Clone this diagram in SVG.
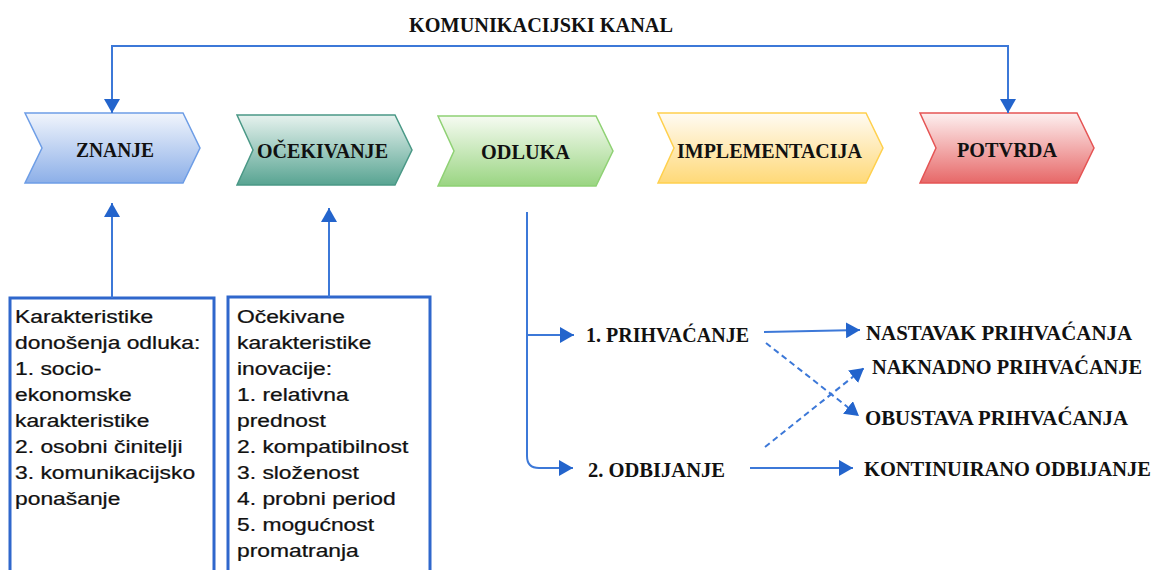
<svg xmlns="http://www.w3.org/2000/svg" width="1158" height="570" viewBox="0 0 1158 570">
<defs>
<linearGradient id="gBlue" x1="0" y1="0" x2="0" y2="1"><stop offset="0" stop-color="#f1f5fc"/><stop offset="1" stop-color="#8cafe8"/></linearGradient>
<linearGradient id="gTeal" x1="0" y1="0" x2="0" y2="1"><stop offset="0" stop-color="#e6f2ee"/><stop offset="1" stop-color="#58a492"/></linearGradient>
<linearGradient id="gGreen" x1="0" y1="0" x2="0" y2="1"><stop offset="0" stop-color="#f6fbf2"/><stop offset="1" stop-color="#9ad582"/></linearGradient>
<linearGradient id="gYellow" x1="0" y1="0" x2="0" y2="1"><stop offset="0" stop-color="#fffbf3"/><stop offset="1" stop-color="#ffd978"/></linearGradient>
<linearGradient id="gRed" x1="0" y1="0" x2="0" y2="1"><stop offset="0" stop-color="#fdf0f0"/><stop offset="1" stop-color="#e76868"/></linearGradient>
<marker id="arr" viewBox="0 0 14 16" refX="14" refY="8" markerWidth="14" markerHeight="16" markerUnits="userSpaceOnUse" orient="auto">
<path d="M0,0 L14,8 L0,16 Z" fill="#2364cc"/>
</marker>
<style>
.chev{stroke-width:1.5}
.lbl{font-family:"Liberation Serif","Times New Roman",serif;font-weight:700;font-size:22px;fill:#111111}
.dl{font-family:"Liberation Serif","Times New Roman",serif;font-weight:700;font-size:21px;fill:#111111}
.box{fill:#ffffff;stroke:#2f67cc;stroke-width:3}
.bt{font-family:"Liberation Sans",Arial,sans-serif;font-size:18.5px;fill:#111111;stroke:#111111;stroke-width:0.25}
.ln{fill:none;stroke:#3c78d8;stroke-width:2}
.dash{fill:none;stroke:#3c78d8;stroke-width:2;stroke-dasharray:6,4}
</style>
</defs>
<rect width="1158" height="570" fill="#ffffff"/>

<text class="lbl" x="409" y="32" textLength="264" lengthAdjust="spacingAndGlyphs">KOMUNIKACIJSKI KANAL</text>

<g id="node-znanje">
<path class="chev" d="M25,113 H183 L200,148 L183,183 H25 L42,148 Z" fill="url(#gBlue)" stroke="#6d9de6"/>
<text class="lbl" x="76" y="157" textLength="78" lengthAdjust="spacingAndGlyphs">ZNANJE</text>
</g>
<g id="node-ocekivanje">
<path class="chev" d="M237,115 H395 L412,150 L395,185 H237 L253,150 Z" fill="url(#gTeal)" stroke="#4a9886"/>
<text class="lbl" x="257" y="158" textLength="131" lengthAdjust="spacingAndGlyphs">OČEKIVANJE</text>
</g>
<g id="node-odluka">
<path class="chev" d="M438,116 H596 L613,151 L596,186 H438 L454,151 Z" fill="url(#gGreen)" stroke="#8fd174"/>
<text class="lbl" x="481" y="159" textLength="89" lengthAdjust="spacingAndGlyphs">ODLUKA</text>
</g>
<g id="node-implementacija">
<path class="chev" d="M658,113 H866 L883,148 L866,183 H658 L674,148 Z" fill="url(#gYellow)" stroke="#ffd04d"/>
<text class="lbl" x="677" y="158" textLength="185" lengthAdjust="spacingAndGlyphs">IMPLEMENTACIJA</text>
</g>
<g id="node-potvrda">
<path class="chev" d="M920,113 H1077 L1094,148 L1077,183 H920 L936,148 Z" fill="url(#gRed)" stroke="#e55454"/>
<text class="lbl" x="957" y="157" textLength="100" lengthAdjust="spacingAndGlyphs">POTVRDA</text>
</g>

<g id="node-box1">
<rect class="box" x="10" y="298" width="204" height="290"/>
<g transform="matrix(1.235 0 0 1 15 0)">
<text class="bt" x="0" y="323">Karakteristike</text>
<text class="bt" x="0" y="349">donošenja odluka:</text>
<text class="bt" x="0" y="375">1. socio-</text>
<text class="bt" x="0" y="401">ekonomske</text>
<text class="bt" x="0" y="427">karakteristike</text>
<text class="bt" x="0" y="453">2. osobni činitelji</text>
<text class="bt" x="0" y="479">3. komunikacijsko</text>
<text class="bt" x="0" y="505">ponašanje</text>
</g>
</g>
<g id="node-box2">
<rect class="box" x="228" y="297" width="202" height="290"/>
<g transform="matrix(1.235 0 0 1 237 0)">
<text class="bt" x="0" y="323">Očekivane</text>
<text class="bt" x="0" y="349">karakteristike</text>
<text class="bt" x="0" y="375">inovacije:</text>
<text class="bt" x="0" y="401">1. relativna</text>
<text class="bt" x="0" y="427">prednost</text>
<text class="bt" x="0" y="453">2. kompatibilnost</text>
<text class="bt" x="0" y="479">3. složenost</text>
<text class="bt" x="0" y="505">4. probni period</text>
<text class="bt" x="0" y="531">5. mogućnost</text>
<text class="bt" x="0" y="557">promatranja</text>
</g>
</g>

<g id="node-prihvacanje"><text class="dl" x="586" y="342" textLength="163" lengthAdjust="spacingAndGlyphs">1. PRIHVAĆANJE</text></g>
<g id="node-odbijanje"><text class="dl" x="588" y="477" textLength="137" lengthAdjust="spacingAndGlyphs">2. ODBIJANJE</text></g>
<g id="node-nastavak"><text class="dl" x="866" y="340" textLength="266" lengthAdjust="spacingAndGlyphs">NASTAVAK PRIHVAĆANJA</text></g>
<g id="node-naknadno"><text class="dl" x="872" y="374" textLength="270" lengthAdjust="spacingAndGlyphs">NAKNADNO PRIHVAĆANJE</text></g>
<g id="node-obustava"><text class="dl" x="865" y="425" textLength="263" lengthAdjust="spacingAndGlyphs">OBUSTAVA PRIHVAĆANJA</text></g>
<g id="node-kontinuirano"><text class="dl" x="864" y="476" textLength="287" lengthAdjust="spacingAndGlyphs">KONTINUIRANO ODBIJANJE</text></g>

<g id="connectors">
<path class="ln" d="M560,46 H112 V113" marker-end="url(#arr)"/>
<path class="ln" d="M560,46 H1008 V113" marker-end="url(#arr)"/>
<path class="ln" d="M112,298 V203" marker-end="url(#arr)"/>
<path class="ln" d="M329,297 V208" marker-end="url(#arr)"/>
<path class="ln" d="M527,212 V456 Q527,468 539,468 H573" marker-end="url(#arr)"/>
<path class="ln" d="M527,335 H574" marker-end="url(#arr)"/>
<path class="ln" d="M764,332 L860,330" marker-end="url(#arr)"/>
<path class="dash" d="M766,343 L859,416" marker-end="url(#arr)"/>
<path class="dash" d="M765,447 L864,368" marker-end="url(#arr)"/>
<path class="ln" d="M750,468 H853" marker-end="url(#arr)"/>
</g>
</svg>
